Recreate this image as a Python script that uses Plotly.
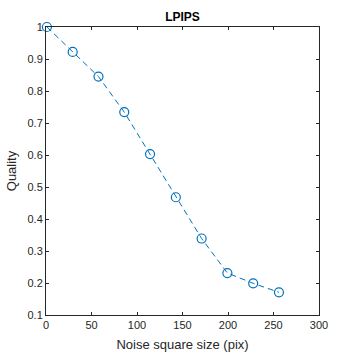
import plotly.graph_objects as go

x_vals = [1, 29.33, 57.67, 86, 114.33, 142.67, 171, 199.33, 227.67, 256]
y_vals = [1.0, 0.922, 0.845, 0.734, 0.603, 0.468, 0.339, 0.231, 0.199, 0.171]
x_ticks = [0, 50, 100, 150, 200, 250, 300]
y_ticks = [0.1, 0.2, 0.3, 0.4, 0.5, 0.6, 0.7, 0.8, 0.9, 1]
y_tick_text = ["0.1", "0.2", "0.3", "0.4", "0.5", "0.6", "0.7", "0.8", "0.9", "1"]

blue = "#0072BD"
axc = "#262626"
font = "Liberation Sans, Arial, sans-serif"

fig = go.Figure()
fig.add_trace(go.Scatter(
    x=x_vals, y=y_vals, mode="lines+markers",
    line=dict(color=blue, width=1, dash="6px,4px"),
    marker=dict(symbol="circle-open", size=9, color=blue, line=dict(width=1.2, color=blue)),
    cliponaxis=False, showlegend=False,
))

axis_common = dict(
    showgrid=False, zeroline=False, showline=True, mirror="ticks",
    linecolor=axc, linewidth=1, ticks="inside", ticklen=3, tickcolor=axc,
    tickfont=dict(family=font, size=11, color=axc), automargin=False,
)
fig.update_layout(
    width=354, height=354,
    margin=dict(l=46, r=35, t=27, b=39),
    paper_bgcolor="white", plot_bgcolor="white",
    title=dict(text="<b>LPIPS</b>", x=0.5, xanchor="center", xref="paper",
               y=1, yref="paper", yanchor="bottom", pad=dict(b=6),
               font=dict(family=font, size=12, color="black")),
    xaxis=dict(range=[0, 300], tickvals=x_ticks,
               title=dict(text="Noise square size (pix)", font=dict(family=font, size=13, color=axc), standoff=9),
               **axis_common),
    yaxis=dict(range=[0.1, 1], tickvals=y_ticks, ticktext=y_tick_text,
               title=dict(text="Quality", font=dict(family=font, size=13, color=axc), standoff=7),
               **axis_common),
)
fig.write_html("out.html")
